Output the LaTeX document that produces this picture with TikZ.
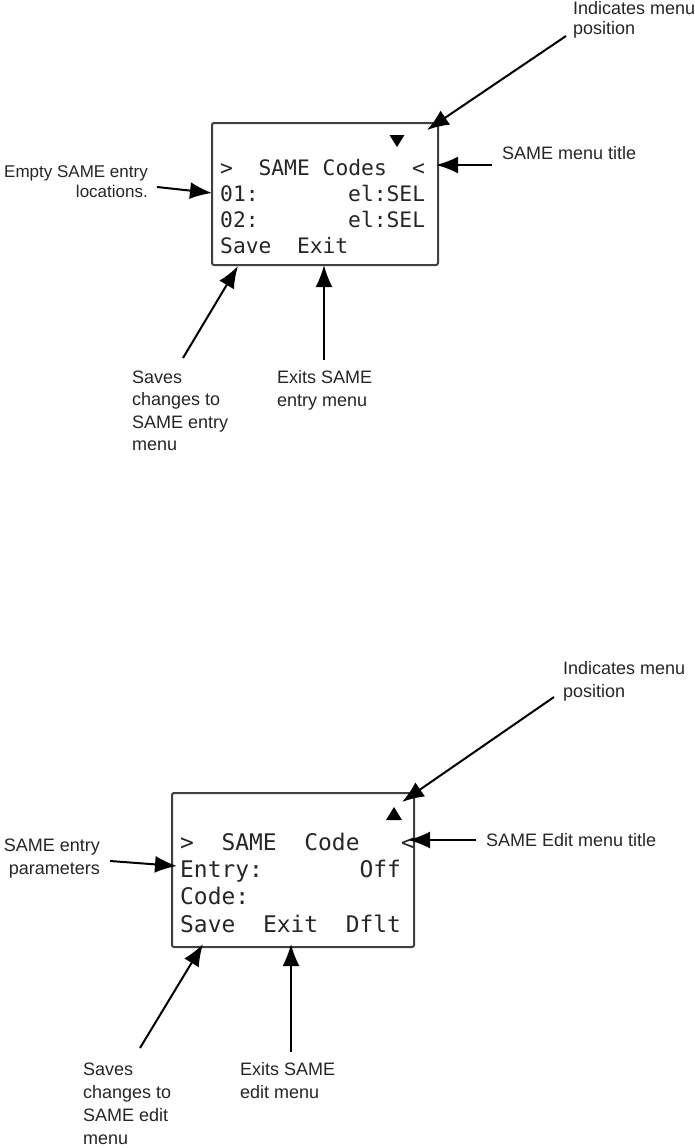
\documentclass[tikz,border=0pt]{standalone}
\usepackage{fontspec}
\setmainfont{Liberation Sans}
\newfontfamily\lcdfont{DejaVu Sans Mono}
\usetikzlibrary{arrows.meta}
\begin{document}
\begin{tikzpicture}[x=1pt,y=-1pt,
  lbl/.style={inner sep=0pt, text=black!85, font=\fontsize{18}{22.5}\selectfont},
  lcdA/.style={inner sep=0pt, anchor=base west, text=black!85, font=\lcdfont\fontsize{21.3}{24}\selectfont},
  lcdB/.style={inner sep=0pt, anchor=base west, text=black!85, font=\lcdfont\fontsize{22.9}{26}\selectfont},
  screen/.style={draw=black!75, line width=2pt, rounded corners=2pt, inner sep=0pt, anchor=north west},
  pointer/.style={draw=black, line width=2pt, -{Latex[length=22pt,width=17pt]}},
  marker/.style={fill=black}]
\path[fill=white] (0,0) rectangle (694,1148);
\useasboundingbox (0,0) rectangle (694,1148);

% ---------------- top screen ----------------
\node[screen, minimum width=226pt, minimum height=142pt] (scrA) at (211,122) {};
\fill[marker] (389.5,135) -- (404.5,135) -- (397,147) -- cycle;
\node[lcdA] (a1) at (220,175) {>};
\node[lcdA] (a2) at (258.4,175) {SAME Codes};
\node[lcdA] (a3) at (412,175) {<};
\node[lcdA] (a4) at (220,201) {01:};
\node[lcdA] (a5) at (348,201) {el:SEL};
\node[lcdA] (a6) at (220,227) {02:};
\node[lcdA] (a7) at (348,227) {el:SEL};
\node[lcdA] (a8) at (220,253) {Save};
\node[lcdA] (a9) at (296.8,253) {Exit};

\node[lbl, anchor=north west, align=left, font=\fontsize{18}{20}\selectfont] (la1) at (573,1.6) {Indicates menu\\position};
\node[lbl, anchor=west] (la2) at (502,153) {SAME menu title};
\node[lbl, anchor=north east, align=right, font=\fontsize{17}{19.5}\selectfont] (la3) at (148,165.6) {Empty SAME entry\\locations.};
\node[lbl, anchor=north west, align=left] (la4) at (132,370.6) {Saves\\changes to\\SAME entry\\menu};
\node[lbl, anchor=north west, align=left] (la5) at (277,370.6) {Exits SAME\\entry menu};

\coordinate (pa1s) at (566,36);  \coordinate (pa1e) at (427,130);
\coordinate (pa2s) at (492,165); \coordinate (pa2e) at (436,165);
\coordinate (pa3s) at (157,187); \coordinate (pa3e) at (212,193);
\coordinate (pa4s) at (183,358); \coordinate (pa4e) at (238,266);
\coordinate (pa5s) at (324,360); \coordinate (pa5e) at (324,265);
\draw[pointer] (pa1s) -- (pa1e);
\draw[pointer] (pa2s) -- (pa2e);
\draw[pointer] (pa3s) -- (pa3e);
\draw[pointer] (pa4s) -- (pa4e);
\draw[pointer] (pa5s) -- (pa5e);

% ---------------- bottom screen ----------------
\node[screen, minimum width=242pt, minimum height=154pt] (scrB) at (171,792) {};
\fill[marker] (386,820) -- (402,820) -- (394,807) -- cycle;
\node[lcdB] (b1) at (180,850) {>};
\node[lcdB] (b2) at (221.4,850) {SAME};
\node[lcdB] (b3) at (304.2,850) {Code};
\node[lcdB] (b4) at (400.8,850) {<};
\node[lcdB] (b5) at (180,877) {Entry:};
\node[lcdB] (b6) at (359.4,877) {Off};
\node[lcdB] (b7) at (180,904) {Code:};
\node[lcdB] (b8) at (180,932) {Save};
\node[lcdB] (b9) at (262.8,932) {Exit};
\node[lcdB] (b10) at (345.6,932) {Dflt};

\node[lbl, anchor=north west, align=left, font=\fontsize{18}{23}\selectfont] (lb1) at (563,661.6) {Indicates menu\\position};
\node[lbl, anchor=west] (lb2) at (486,840) {SAME Edit menu title};
\node[lbl, anchor=north east, align=right, font=\fontsize{18}{23}\selectfont] (lb3) at (100,838.6) {SAME entry\\parameters};
\node[lbl, anchor=north west, align=left, font=\fontsize{18}{23}\selectfont] (lb4) at (83,1062.6) {Saves\\changes to\\SAME edit\\menu};
\node[lbl, anchor=north west, align=left, font=\fontsize{18}{23}\selectfont] (lb5) at (240,1062.6) {Exits SAME\\edit menu};

\coordinate (pb1s) at (554,697);  \coordinate (pb1e) at (402,802);
\coordinate (pb2s) at (476,840);  \coordinate (pb2e) at (408,840);
\coordinate (pb3s) at (110,861);  \coordinate (pb3e) at (177,866);
\coordinate (pb4s) at (140,1048); \coordinate (pb4e) at (203,944);
\coordinate (pb5s) at (291,1052); \coordinate (pb5e) at (291,944);
\draw[pointer] (pb1s) -- (pb1e);
\draw[pointer] (pb2s) -- (pb2e);
\draw[pointer] (pb3s) -- (pb3e);
\draw[pointer] (pb4s) -- (pb4e);
\draw[pointer] (pb5s) -- (pb5e);
\end{tikzpicture}
\end{document}
